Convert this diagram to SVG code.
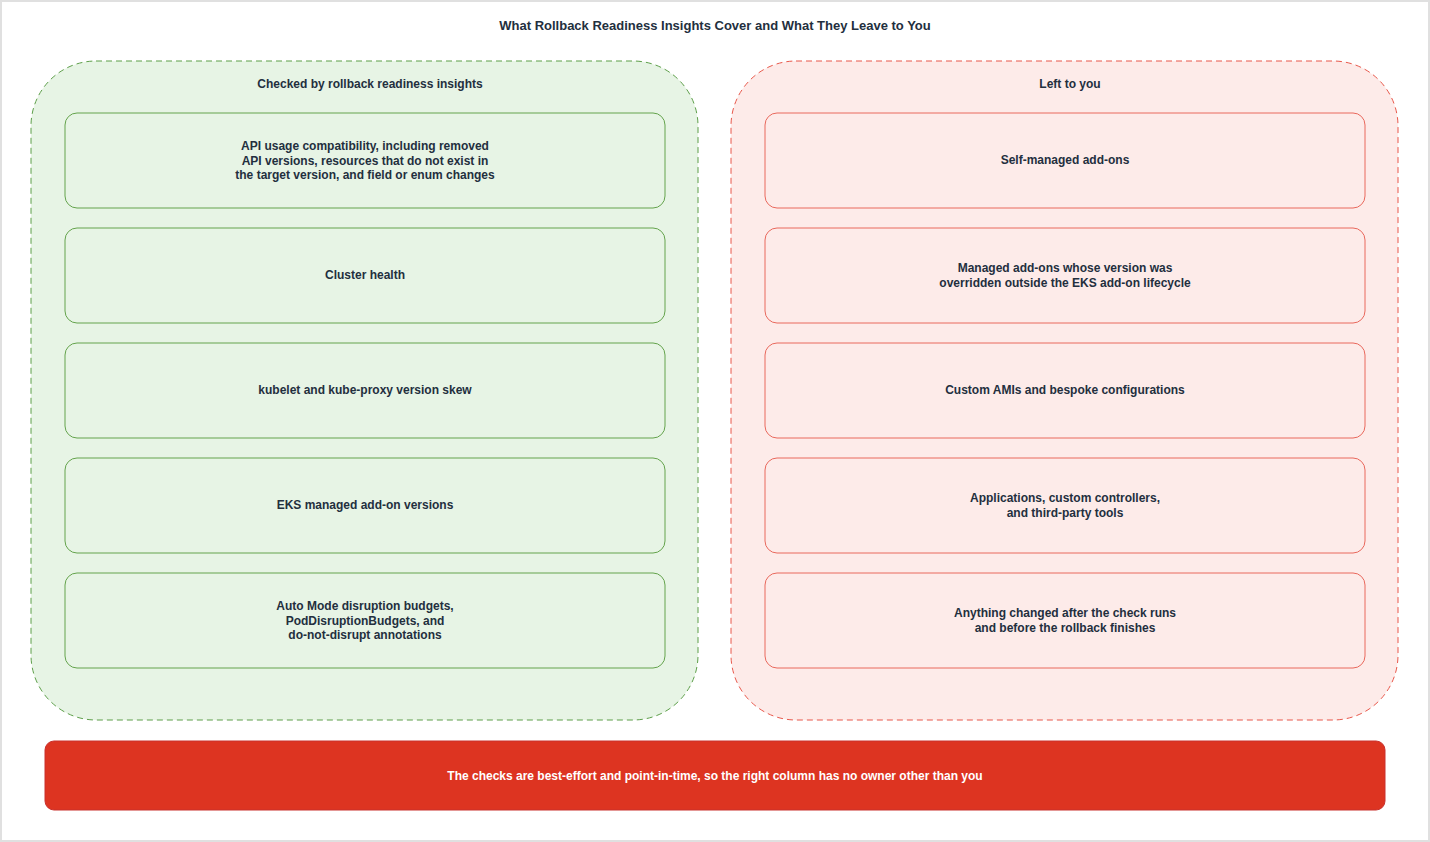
<svg xmlns="http://www.w3.org/2000/svg" width="1430" height="842" viewBox="0 0 1430 842">
<style>
text{font-family:"Liberation Sans",Arial,sans-serif;font-weight:bold;font-size:12px;fill:#232f3e;text-anchor:middle}
.t{font-size:13px}
.gc{fill:#e7f4e5;stroke:#5c9e48;stroke-dasharray:6 4}
.rc{fill:#fdebe9;stroke:#e8574a;stroke-dasharray:6 4}
.g{fill:#e7f4e5;stroke:#64a34c}
.r{fill:#fdebe9;stroke:#e9685c}
</style>
<rect x="1" y="1" width="1428" height="840" fill="#fff" stroke="#e0e0e0" stroke-width="2"/>
<text class="t" x="715" y="30">What Rollback Readiness Insights Cover and What They Leave to You</text>
<g id="left"><rect class="gc" x="31" y="61" width="667" height="659" rx="65"/><text x="370" y="88" fill="#000">Checked by rollback readiness insights</text></g>
<g id="right"><rect class="rc" x="731" y="61" width="667" height="659" rx="65"/><text x="1070" y="88">Left to you</text></g>
<g id="l1"><rect class="g" x="65" y="113" width="600" height="95" rx="12"/><text x="365" y="150">API usage compatibility, including removed</text><text x="365" y="164.5">API versions, resources that do not exist in</text><text x="365" y="179">the target version, and field or enum changes</text></g>
<g id="l2"><rect class="g" x="65" y="228" width="600" height="95" rx="12"/><text x="365" y="279">Cluster health</text></g>
<g id="l3"><rect class="g" x="65" y="343" width="600" height="95" rx="12"/><text x="365" y="394">kubelet and kube-proxy version skew</text></g>
<g id="l4"><rect class="g" x="65" y="458" width="600" height="95" rx="12"/><text x="365" y="509">EKS managed add-on versions</text></g>
<g id="l5"><rect class="g" x="65" y="573" width="600" height="95" rx="12"/><text x="365" y="610">Auto Mode disruption budgets,</text><text x="365" y="624.5">PodDisruptionBudgets, and</text><text x="365" y="639">do-not-disrupt annotations</text></g>
<g id="r1"><rect class="r" x="765" y="113" width="600" height="95" rx="12"/><text x="1065" y="164">Self-managed add-ons</text></g>
<g id="r2"><rect class="r" x="765" y="228" width="600" height="95" rx="12"/><text x="1065" y="272">Managed add-ons whose version was</text><text x="1065" y="286.5">overridden outside the EKS add-on lifecycle</text></g>
<g id="r3"><rect class="r" x="765" y="343" width="600" height="95" rx="12"/><text x="1065" y="394">Custom AMIs and bespoke configurations</text></g>
<g id="r4"><rect class="r" x="765" y="458" width="600" height="95" rx="12"/><text x="1065" y="502">Applications, custom controllers,</text><text x="1065" y="516.5">and third-party tools</text></g>
<g id="r5"><rect class="r" x="765" y="573" width="600" height="95" rx="12"/><text x="1065" y="617">Anything changed after the check runs</text><text x="1065" y="631.5">and before the rollback finishes</text></g>
<g id="banner"><rect x="45" y="741" width="1340" height="69" rx="9" fill="#dd3421" stroke="#c9302c"/><text x="715" y="780" style="fill:#fff">The checks are best-effort and point-in-time, so the right column has no owner other than you</text></g>
<g id="connectors"></g>
</svg>
